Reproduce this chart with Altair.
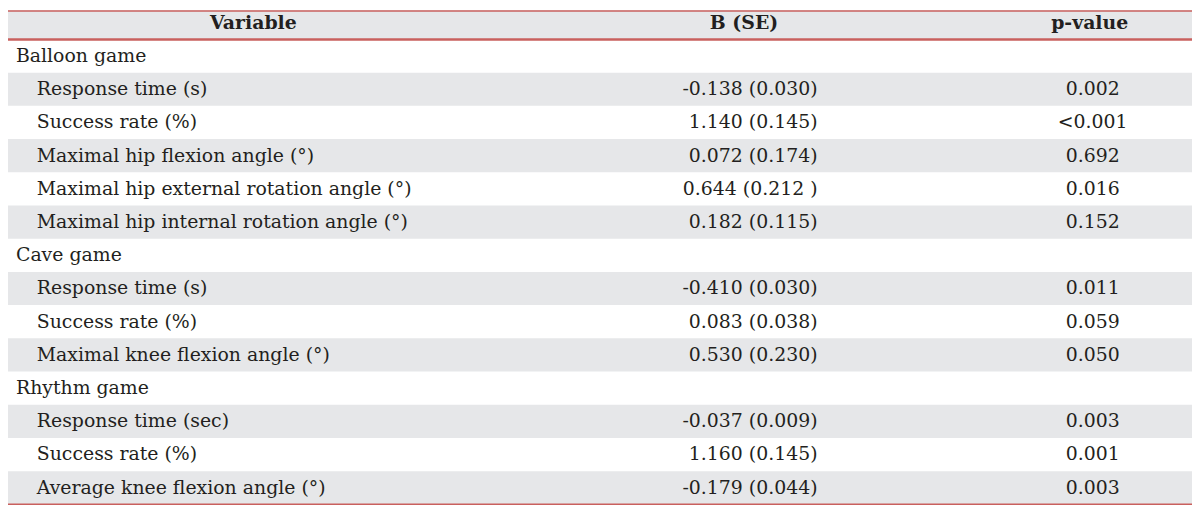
import altair as alt
import pandas as pd

# ---- table content ----
labels = [
    "Balloon game",
    "Response time (s)",
    "Success rate (%)",
    "Maximal hip flexion angle (°)",
    "Maximal hip external rotation angle (°)",
    "Maximal hip internal rotation angle (°)",
    "Cave game",
    "Response time (s)",
    "Success rate (%)",
    "Maximal knee flexion angle (°)",
    "Rhythm game",
    "Response time (sec)",
    "Success rate (%)",
    "Average knee flexion angle (°)",
]
is_group = [True, False, False, False, False, False, True, False, False, False, True, False, False, False]
b_se = ["", "-0.138 (0.030)", "1.140 (0.145)", "0.072 (0.174)", "0.644 (0.212 )", "0.182 (0.115)",
        "", "-0.410 (0.030)", "0.083 (0.038)", "0.530 (0.230)",
        "", "-0.037 (0.009)", "1.160 (0.145)", "-0.179 (0.044)"]
p_values = ["", "0.002", "<0.001", "0.692", "0.016", "0.152",
            "", "0.011", "0.059", "0.050",
            "", "0.003", "0.001", "0.003"]
headers = ["Variable", "B (SE)", "p-value"]

# column anchor positions (table units, matching page pixels)
header_x = [255, 749, 1097]
group_x, item_x, bse_x, p_x = 16, 37, 823, 1100
table_left, table_right = 8, 1200

GRAY = "#e6e7e9"
RED = "#c9605e"
TEXT = "#231f20"
FONT = "DejaVu Serif"
FS = 19

rows = pd.DataFrame({
    "row": list(range(len(labels))),
    "label": labels,
    "group": is_group,
    "bse": b_se,
    "p": p_values,
})
rows["lx"] = [group_x if g else item_x for g in is_group]
rows["bx"] = bse_x
rows["px"] = p_x

band_rows = rows[rows["row"] % 2 == 1].copy()
band_rows["y0"] = band_rows["row"] - 0.5
band_rows["y1"] = band_rows["row"] + 0.5
band_rows["x0"] = table_left
band_rows["x1"] = table_right
header_band = pd.DataFrame({"y0": [-1.37], "y1": [-0.5], "x0": [table_left], "x1": [table_right]})
bands = pd.concat([band_rows[["y0", "y1", "x0", "x1"]], header_band], ignore_index=True)

hdr = pd.DataFrame({"label": headers, "x": header_x, "row": [-1] * 3})

rules = pd.DataFrame({
    "y": [-1.36, -0.5, 13.5],
    "w": [1.5, 2.5, 1.5],
    "x0": [table_left] * 3,
    "x1": [table_right] * 3,
})

W, H = 1192, 500
xs = alt.Scale(domain=[table_left, table_right], nice=False, zero=False)
ys = alt.Scale(domain=[-1.397, 13.56], reverse=True, nice=False, zero=False)

band_layer = alt.Chart(bands).mark_rect(color=GRAY).encode(
    x=alt.X("x0:Q", scale=xs, axis=None), x2="x1:Q",
    y=alt.Y("y0:Q", scale=ys, axis=None), y2="y1:Q",
)

rule_layer = alt.Chart(rules).mark_rule(color=RED).encode(
    x=alt.X("x0:Q", scale=xs, axis=None), x2="x1:Q",
    y=alt.Y("y:Q", scale=ys, axis=None),
    strokeWidth=alt.StrokeWidth("w:Q", scale=None),
)

txt = dict(font=FONT, fontSize=FS, color=TEXT, baseline="middle")

label_layer = alt.Chart(rows).mark_text(align="left", **txt).encode(
    x=alt.X("lx:Q", scale=xs, axis=None),
    y=alt.Y("row:Q", scale=ys, axis=None),
    text="label:N",
)
bse_layer = alt.Chart(rows).mark_text(align="right", **txt).encode(
    x=alt.X("bx:Q", scale=xs, axis=None),
    y=alt.Y("row:Q", scale=ys, axis=None),
    text="bse:N",
)
p_layer = alt.Chart(rows).mark_text(align="center", **txt).encode(
    x=alt.X("px:Q", scale=xs, axis=None),
    y=alt.Y("row:Q", scale=ys, axis=None),
    text="p:N",
)
hdr_layer = alt.Chart(hdr).mark_text(align="center", fontWeight="bold", **txt).encode(
    x=alt.X("x:Q", scale=xs, axis=None),
    y=alt.Y("row:Q", scale=ys, axis=None),
    text="label:N",
)

chart = alt.layer(band_layer, rule_layer, label_layer, bse_layer, p_layer, hdr_layer).properties(
    width=W, height=H, padding=0, autosize="none", background="white"
).configure_view(stroke=None)

chart.save("out.html", embed_options={"renderer": "svg", "actions": False})
